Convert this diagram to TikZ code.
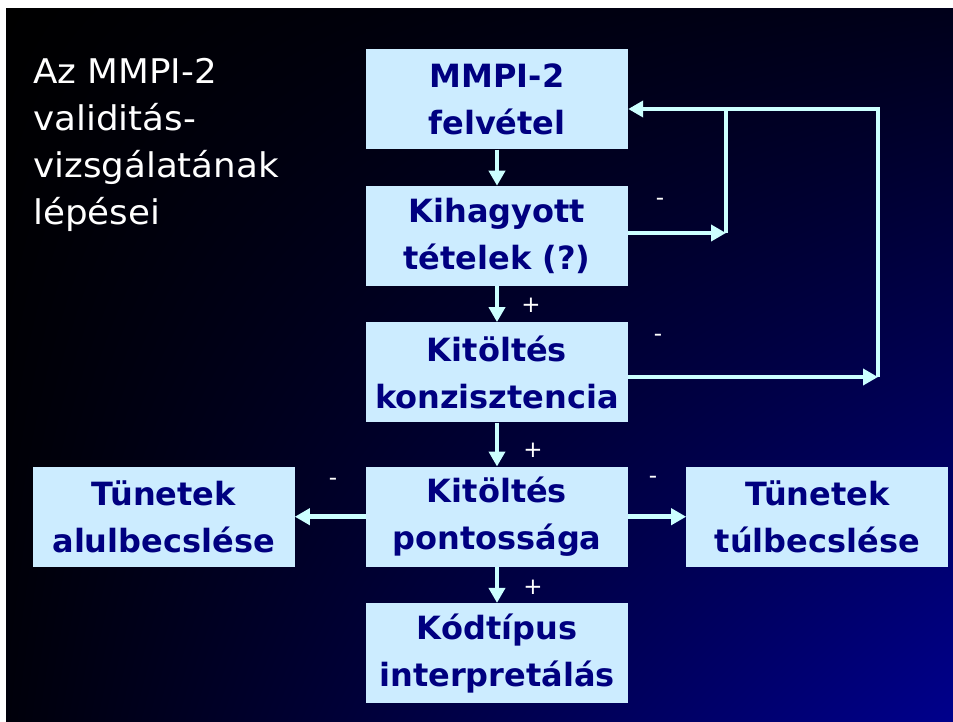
\documentclass[tikz,border=0pt]{standalone}
\usepackage{fontspec}
\setmainfont{DejaVu Sans}
\newfontfamily\titlefont[FakeStretch=1.05]{DejaVu Sans}
\usetikzlibrary{arrows.meta,positioning,shadings}
\definecolor{boxfill}{HTML}{CCECFF}
\definecolor{boxtext}{HTML}{000080}
\definecolor{arrowcol}{HTML}{CCFFFF}
\definecolor{bgtr}{HTML}{00001A}
\definecolor{bgbl}{HTML}{00000A}
\definecolor{bgbr}{HTML}{00008C}

\begin{document}
\begin{tikzpicture}[x=1pt,y=-1pt,node distance=36pt and 58pt,>={Triangle[width=16pt,length=15pt]},
  stepbox/.style={fill=boxfill,text=boxtext,minimum width=262pt,minimum height=100pt,inner sep=0pt,align=center,font=\fontsize{32}{47}\selectfont\bfseries},
  flow/.style={draw=arrowcol,line width=4.5pt},
  sign/.style={text=white,inner sep=0pt,font=\fontsize{23}{23}\selectfont}]
% background
\useasboundingbox (0,0) rectangle (953,722);
\fill[white] (0,0) rectangle (953,722);
\shade[upper left=black,upper right=bgtr,lower left=bgbl,lower right=bgbr] (6,9) rectangle (953,721);
% title
\node[anchor=north west,inner sep=0pt,align=left,text=white,font=\titlefont\fontsize{34}{47}\selectfont] (title) at (33,58) {Az MMPI-2\\validitás-\\vizsgálatának\\lépései};
% steps
\node[stepbox] (felvetel) at (497,99.5) {MMPI-2\\felvétel};
\node[stepbox,below=of felvetel] (kihagyott) {Kihagyott\\tételek (?)};
\node[stepbox,below=of kihagyott] (konziszt) {Kitöltés\\konzisztencia};
\node[stepbox,below=44pt of konziszt] (pontossag) {Kitöltés\\pontossága};
\node[stepbox,below=of pontossag] (kodtipus) {Kódtípus\\interpretálás};
\node[stepbox,left=71pt of pontossag] (alul) {Tünetek\\alulbecslése};
\node[stepbox,right=of pontossag] (tul) {Tünetek\\túlbecslése};
% main line
\draw[flow,->] (felvetel) -- (kihagyott);
\draw[flow,->] (kihagyott) -- (konziszt);
\draw[flow,->] (konziszt) -- (pontossag);
\draw[flow,->] (pontossag) -- (kodtipus);
\draw[flow,->] (pontossag) -- (alul);
\draw[flow,->] (pontossag) -- (tul);
% back loops
\coordinate (jointA) at (726,233);
\coordinate (jointB) at (726,109);
\coordinate (jointC) at (878,109);
\coordinate (jointD) at (878,377);
\draw[flow,->] (kihagyott.east |- jointA) -- (jointA);
\draw[flow] (jointA) -- (jointB);
\draw[flow,->] (konziszt.east |- jointD) -- (jointD);
\draw[flow,->] (jointD) -- (jointC) -- (felvetel.east |- jointC);
% signs
\node[sign] (plusA) at (531,305) {+};
\node[sign] (plusB) at (533,450) {+};
\node[sign] (plusC) at (533,587) {+};
\node[sign] (minusA) at (660,202) {-};
\node[sign] (minusB) at (658,338) {-};
\node[sign] (minusC) at (333,482) {-};
\node[sign] (minusD) at (653,480) {-};
\end{tikzpicture}
\end{document}
